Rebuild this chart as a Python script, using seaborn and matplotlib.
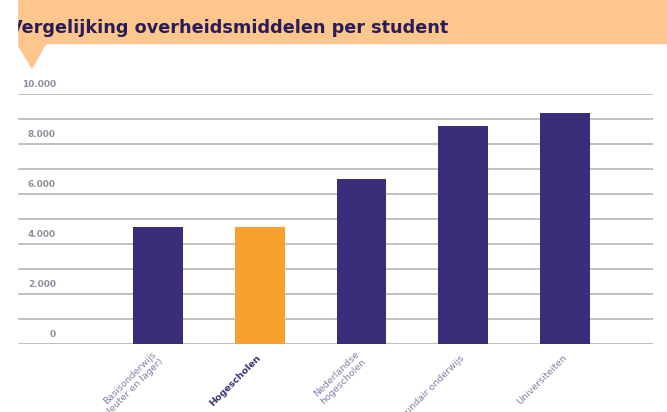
import numpy as np
import pandas as pd
import matplotlib
matplotlib.use("Agg")
import matplotlib.pyplot as plt
from matplotlib.patches import Rectangle, Polygon
import seaborn as sns

# data
categories = ["Basisonderwijs\n(kleuter en lager)", "Hogescholen",
              "Nederlandse\nhogescholen", "Secundair onderwijs", "Universiteiten"]
values = [4680, 4680, 6600, 8720, 9240]
ytick_vals = [0, 2000, 4000, 6000, 8000, 10000]
ytick_labels = ["0", "2.000", "4.000", "6.000", "8.000", "10.000"]
highlight = "Hogescholen"

navy = "#3a2e7a"
orange = "#f7a12c"
band = "#fcc68c"

sns.set_style("white")
fig = plt.figure(figsize=(6.67, 4.12), dpi=100)
W, H = 667.0, 412.0

ax = fig.add_axes([17 / W, 1 - 344 / H, (653 - 17) / W, (344 - 94) / H])

df = pd.DataFrame({"cat": categories, "val": values})
pal = {c: (orange if c == highlight else navy) for c in categories}
sns.barplot(data=df, x="cat", y="val", hue="cat", palette=pal, legend=False,
            width=0.49, saturation=1, linewidth=0, ax=ax, zorder=3)

ax.set_xlim(-1.386, 4.865)
ax.set_ylim(0, 10000)
ax.set_yticks(np.arange(0, 10001, 1000))
ax.set_yticklabels([])
ax.tick_params(axis="y", length=0)
ax.grid(axis="y", color="#bcbcbc", linewidth=1.3)
ax.set_axisbelow(True)
for s in ax.spines.values():
    s.set_visible(False)
ax.set_xlabel("")
ax.set_ylabel("")

# y labels sit a little above their gridline
for v, lab in zip(ytick_vals, ytick_labels):
    ax.text(0.061, v + 380, lab, transform=ax.get_yaxis_transform(),
            ha="right", va="center", fontsize=6.5, fontweight="bold",
            color="#8f8f9c")

ax.tick_params(axis="x", length=0, pad=9)
ax.set_xticks(range(len(categories)))
ax.set_xticklabels(categories)
for lab in ax.get_xticklabels():
    lab.set_rotation(45)
    lab.set_ha("right")
    lab.set_va("center")
    lab.set_rotation_mode("anchor")
    lab.set_fontsize(6.8)
    lab.set_linespacing(1.1)
    if lab.get_text() == highlight:
        lab.set_fontweight("bold")
        lab.set_color("#3a3470")
    else:
        lab.set_color("#8080a8")

# header band with the little pointer
fig.patches.append(Rectangle((17 / W, 1 - 43 / H), 1 - 17 / W, 43 / H,
                             transform=fig.transFigure, color=band, zorder=1))
fig.patches.append(Polygon([(17 / W, 1 - 43 / H), (46 / W, 1 - 43 / H), (32 / W, 1 - 68 / H)],
                           closed=True, transform=fig.transFigure, color=band, zorder=1))
fig.text(9 / W, 1 - 28 / H, "Vergelijking overheidsmiddelen per student",
         fontsize=12.7, fontweight="bold", color="#2a1c55", va="center", ha="left", zorder=3)
# white strip that cuts off the start of the title
fig.patches.append(Rectangle((0, 0), 17 / W, 1, transform=fig.transFigure,
                             color="white", zorder=5))

fig.savefig("out.png", dpi=100)
